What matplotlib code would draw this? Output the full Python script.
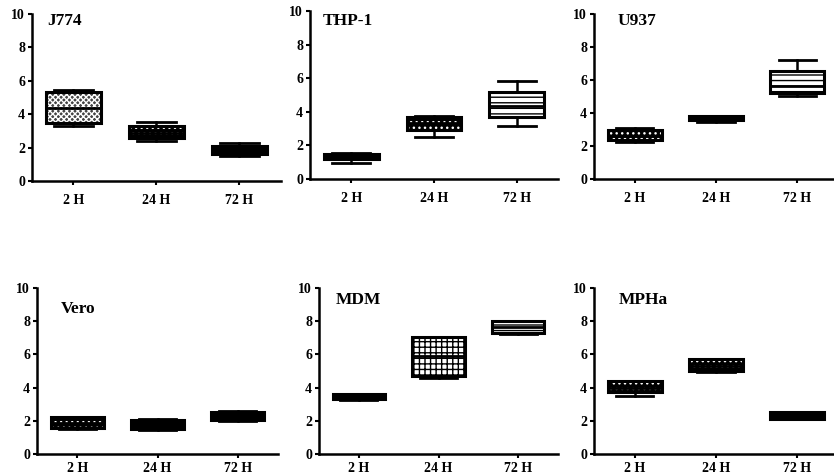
import matplotlib
matplotlib.use("Agg")
import matplotlib.pyplot as plt
from matplotlib.patches import PathPatch

plt.rcParams['font.family'] = ['Liberation Serif', 'DejaVu Serif']
plt.rcParams['font.weight'] = 'bold'
plt.rcParams['hatch.linewidth'] = 1.0

timepoints = ['2 H', '24 H', '72 H']
cell_lines = ['J774', 'THP-1', 'U937', 'Vero', 'MDM', 'MPHa']
yticks = [0, 2, 4, 6, 8, 10]

# per cell line: whisker low, Q1, median, Q3, whisker high (2 H, 24 H, 72 H)
j774_lo = [3.30, 2.40, 1.50]
j774_q1 = [3.50, 2.55, 1.60]
j774_med = [4.40, 2.85, 1.90]
j774_q3 = [5.35, 3.30, 2.10]
j774_hi = [5.45, 3.55, 2.25]

thp1_lo = [0.97, 2.52, 3.17]
thp1_q1 = [1.17, 2.92, 3.71]
thp1_med = [1.33, 3.35, 4.35]
thp1_q3 = [1.50, 3.67, 5.16]
thp1_hi = [1.57, 3.75, 5.85]

u937_lo = [2.22, 3.43, 5.06]
u937_q1 = [2.34, 3.59, 5.24]
u937_med = [2.58, 3.69, 5.64]
u937_q3 = [2.98, 3.83, 6.57]
u937_hi = [3.12, 3.83, 7.22]

vero_lo = [1.50, 1.45, 2.00]
vero_q1 = [1.58, 1.51, 2.05]
vero_med = [1.85, 1.75, 2.25]
vero_q3 = [2.20, 2.05, 2.55]
vero_hi = [2.25, 2.09, 2.60]

mdm_lo = [3.26, 4.55, 7.22]
mdm_q1 = [3.32, 4.67, 7.28]
mdm_med = [3.42, 5.88, 7.65]
mdm_q3 = [3.60, 7.02, 8.03]
mdm_hi = [3.64, 7.02, 8.03]

mpha_lo = [3.52, 4.95, 2.09]
mpha_q1 = [3.72, 5.01, 2.11]
mpha_med = [4.00, 5.33, 2.35]
mpha_q3 = [4.37, 5.73, 2.56]
mpha_hi = [4.37, 5.73, 2.56]

panel_data = [
    (j774_lo, j774_q1, j774_med, j774_q3, j774_hi),
    (thp1_lo, thp1_q1, thp1_med, thp1_q3, thp1_hi),
    (u937_lo, u937_q1, u937_med, u937_q3, u937_hi),
    (vero_lo, vero_q1, vero_med, vero_q3, vero_hi),
    (mdm_lo, mdm_q1, mdm_med, mdm_q3, mdm_hi),
    (mpha_lo, mpha_q1, mpha_med, mpha_q3, mpha_hi),
]

# fill styles: (face colour, hatch colour, hatch)
STYLES = {
    'checker': ('#444444', 'white', 'xxxxxx'),
    'dots': ('black', 'white', '...'),
    'solid': ('black', 'black', None),
    'wline': ('black', 'white', '-'),
    'hlines': ('white', 'black', '---'),
    'bigcheck': ('white', 'black', '+++'),
}
panel_styles = [
    ['checker', 'dots', 'wline'],
    ['solid', 'dots', 'hlines'],
    ['dots', 'solid', 'hlines'],
    ['dots', 'solid', 'wline'],
    ['solid', 'bigcheck', 'hlines'],
    ['dots', 'dots', 'solid'],
]

# axes placement in pixels: left, y of value 10, y of value 0, right
W, H = 834, 475
placements = [
    (32, 14, 181, 281),
    (310, 11, 179, 558),
    (594, 14, 179, 838),
    (37, 288, 454, 278),
    (319, 288, 454, 558),
    (594, 288, 454, 838),
]
xpads = [6, 6, 6, 2.5, 2.5, 2.5]
title_pos = [(0.06, 0.96), (0.05, 0.94), (0.095, 0.96),
             (0.10, 0.875), (0.07, 0.925), (0.10, 0.925)]

fig = plt.figure(figsize=(W / 100, H / 100), dpi=100)

for i, name in enumerate(cell_lines):
    l, t, b, r = placements[i]
    ax = fig.add_axes([l / W, 1 - b / H, (r - l) / W, (b - t) / H])
    lo, q1, med, q3, hi = panel_data[i]
    stats = []
    for k in range(len(timepoints)):
        stats.append(dict(whislo=lo[k], q1=q1[k], med=med[k], q3=q3[k],
                          whishi=hi[k], label=timepoints[k], fliers=[]))
    width = 0.66
    res = ax.bxp(stats, positions=[1, 2, 3], widths=width, patch_artist=True,
                 showfliers=False, capwidths=width * 0.7,
                 boxprops=dict(linewidth=2.0),
                 whiskerprops=dict(linewidth=1.8, color='black'),
                 capprops=dict(linewidth=2.0, color='black'),
                 medianprops=dict(linewidth=2.0, color='black'))
    for k, box in enumerate(res['boxes']):
        face, hcol, hatch = STYLES[panel_styles[i][k]]
        box.set_facecolor(face)
        box.set_edgecolor(hcol)
        if hatch:
            box.set_hatch(hatch)
        box.set_linewidth(0)
        outline = PathPatch(box.get_path(), fill=False, edgecolor='black',
                            linewidth=2.2, zorder=box.get_zorder() + 0.1)
        ax.add_patch(outline)
    for m in res['medians']:
        m.set_zorder(5)

    ax.set_xlim(0.5, 3.5)
    ax.set_ylim(0, 10)
    ax.set_yticks(yticks)
    ax.set_xticks([1, 2, 3])
    ax.set_xticklabels(timepoints)
    for s in ['top', 'right']:
        ax.spines[s].set_visible(False)
    for s in ['left', 'bottom']:
        ax.spines[s].set_linewidth(1.8)
    ax.tick_params(axis='both', direction='out', length=3, width=1.5,
                   labelsize=10)
    ax.tick_params(axis='x', pad=xpads[i])
    ax.tick_params(axis='y', pad=2)
    for lab in ax.get_xticklabels() + ax.get_yticklabels():
        lab.set_fontweight('bold')
    ax.text(title_pos[i][0], title_pos[i][1], name, transform=ax.transAxes,
            fontsize=12.5, fontweight='bold', ha='left', va='center')

fig.savefig('out.png', dpi=100)
